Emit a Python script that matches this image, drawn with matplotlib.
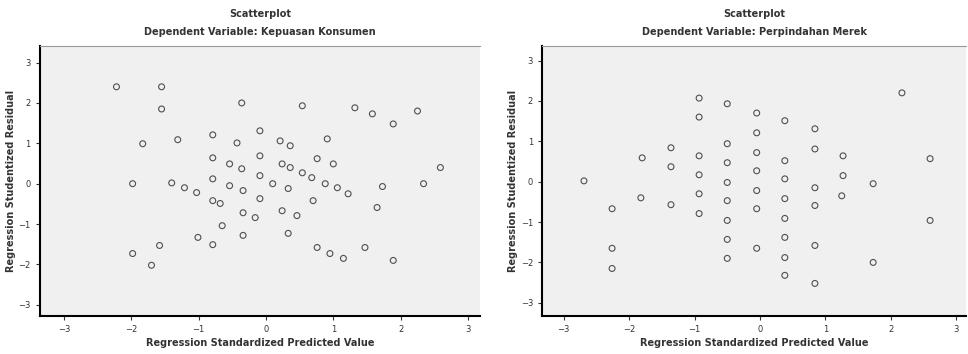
import matplotlib
matplotlib.use("Agg")
from matplotlib import pyplot as plt

# Scatterplot 1: Kepuasan Konsumen
kk_pred = [-2.22, -1.55, -1.55, -0.36, -1.83, -1.31, -0.79, -0.79, -0.54, -0.36,
           -1.98, -1.40, -1.21, -1.03, -0.79, -0.54, -0.34, -0.79, -0.68, -0.34,
           -0.65, -0.34, -1.01, -0.79, -1.58, -1.98, -1.70,
           0.54, 1.32, 1.58, 2.25, 1.89, -0.43, -0.09, 0.21, 0.36, 0.91,
           -0.09, 0.76, 1.00, 0.24, 0.36, 0.54, 0.68, 2.59, -0.09, 0.10, 0.33,
           0.88, 1.06, 1.22, 1.73, 2.34, -0.09, 0.70, 1.65, -0.16, 0.24, 0.46,
           0.33, 0.76, 0.95, 1.15, 1.47, 1.89]
kk_resid = [2.40, 2.40, 1.85, 2.00, 0.99, 1.09, 1.21, 0.64, 0.49, 0.37,
            0.00, 0.02, -0.10, -0.22, 0.12, -0.05, -0.17, -0.42, -0.49, -0.72,
            -1.04, -1.28, -1.33, -1.51, -1.53, -1.73, -2.02,
            1.93, 1.88, 1.73, 1.80, 1.48, 1.01, 1.31, 1.06, 0.94, 1.11,
            0.69, 0.62, 0.49, 0.49, 0.40, 0.27, 0.15, 0.40, 0.20, 0.00, -0.12,
            0.00, -0.10, -0.25, -0.07, 0.00, -0.37, -0.42, -0.59, -0.84, -0.67, -0.79,
            -1.23, -1.58, -1.73, -1.85, -1.58, -1.90]

# Scatterplot 2: Perpindahan Merek
pm_pred = [-2.69, -2.26, -2.26, -2.26, -1.80, -1.82, -1.36, -1.36, -1.36,
           -0.93, -0.93, -0.93, -0.93, -0.93, -0.93,
           -0.50, -0.50, -0.50, -0.50, -0.50, -0.50, -0.50, -0.50,
           -0.05, -0.05, -0.05, -0.05, -0.05, -0.05, -0.05,
           0.38, 0.38, 0.38, 0.38, 0.38, 0.38, 0.38, 0.38,
           0.84, 0.84, 0.84, 0.84, 0.84, 0.84,
           1.27, 1.27, 1.25, 1.73, 1.73, 2.17, 2.60, 2.60]
pm_resid = [0.02, -0.67, -1.65, -2.15, 0.59, -0.40, 0.84, 0.37, -0.57,
            2.07, 1.60, 0.64, 0.17, -0.30, -0.79,
            1.93, 0.94, 0.47, -0.02, -0.47, -0.96, -1.43, -1.90,
            1.70, 1.21, 0.72, 0.27, -0.22, -0.67, -1.65,
            1.51, 0.52, 0.07, -0.42, -0.91, -1.38, -1.88, -2.32,
            1.31, 0.81, -0.15, -0.59, -1.58, -2.52,
            0.64, 0.15, -0.35, -0.05, -2.00, 2.20, 0.57, -0.96]

ticks = [-3, -2, -1, 0, 1, 2, 3]

fig = plt.figure(figsize=(9.68, 3.54), dpi=100)
fig.patch.set_facecolor("white")

panels = [
    ([0.041, 0.107, 0.455, 0.763], kk_pred, kk_resid, "Kepuasan Konsumen",
     (-3.36, 3.18), (-3.28, 3.41)),
    ([0.560, 0.107, 0.438, 0.763], pm_pred, pm_resid, "Perpindahan Merek",
     (-3.33, 3.15), (-3.33, 3.36)),
]

for rect, xs, ys, dep, xl, yl in panels:
    ax = fig.add_axes(rect)
    ax.set_facecolor("#f0f0f0")
    ax.scatter(xs, ys, s=18, facecolors="none", edgecolors="#333333",
               linewidths=0.8, alpha=0.85)
    ax.set_xlim(*xl)
    ax.set_ylim(*yl)
    ax.set_xticks(ticks)
    ax.set_yticks(ticks)
    ax.tick_params(labelsize=6, length=3, width=0.8, colors="#333333")
    for s in ["left", "bottom"]:
        ax.spines[s].set_linewidth(1.5)
        ax.spines[s].set_color("black")
    ax.spines["top"].set_color("#999999")
    ax.spines["top"].set_linewidth(0.8)
    ax.spines["right"].set_visible(False)
    ax.set_xlabel("Regression Standardized Predicted Value", fontsize=7,
                  fontweight="bold", color="#333333", labelpad=3)
    ax.set_ylabel("Regression Studentized Residual", fontsize=7,
                  fontweight="bold", color="#333333", labelpad=2)
    ax.set_title("Scatterplot\nDependent Variable: " + dep, fontsize=7,
                 fontweight="bold", color="#333333", pad=8, linespacing=2.0)

fig.savefig("out.png", dpi=100)
